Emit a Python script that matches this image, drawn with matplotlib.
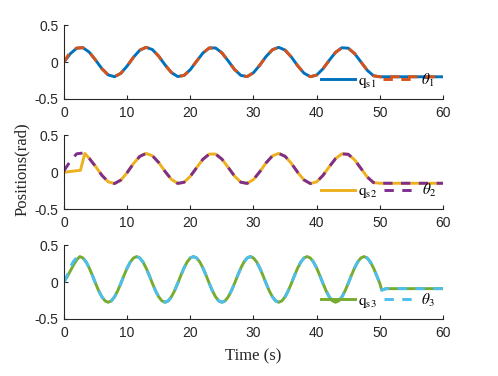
import numpy as np
import matplotlib
matplotlib.use("Agg")
import matplotlib.pyplot as plt

plt.rcParams['font.family'] = ['Liberation Sans', 'DejaVu Sans']
plt.rcParams['mathtext.fontset'] = 'stix'

# ---- data ----
t = list(range(0, 61))

q_s1 = [0.0, 0.113, 0.187, 0.195, 0.134, 0.027, -0.090, -0.175, -0.199, -0.153,
        -0.054, 0.065, 0.161, 0.200, 0.169, 0.079, -0.039, -0.142, -0.197, -0.182,
        -0.103, 0.012, 0.123, 0.191, 0.191, 0.125, 0.015, -0.101, -0.181, -0.197,
        -0.145, -0.042, 0.076, 0.167, 0.200, 0.162, 0.068, -0.051, -0.151, -0.199,
        -0.177, -0.092, 0.024, 0.132, 0.194, 0.188, 0.116, 0.003, -0.111, -0.186,
        -0.200, -0.200, -0.200, -0.200, -0.200, -0.200, -0.200, -0.200, -0.200, -0.200,
        -0.200]
theta1_head = [0.0, 0.14, 0.19]
theta1 = theta1_head + q_s1[3:]

t_q2 = [0, 1, 2, 2.6, 3.3] + list(range(4, 61))
q_s2_head = [0.0, 0.01, 0.02, 0.025, 0.255]
q_s2_body = [0.187, 0.078, -0.042, -0.130, -0.154, -0.107,
             -0.005, 0.117, 0.215, 0.255, 0.223, 0.131, 0.010, -0.096, -0.152, -0.137,
             -0.056, 0.062, 0.176, 0.246, 0.246, 0.178, 0.065, -0.053, -0.136, -0.152,
             -0.099, 0.007, 0.128, 0.221, 0.255, 0.216, 0.120, -0.002, -0.105, -0.154,
             -0.131, -0.044, 0.075, 0.185, 0.249, 0.243, 0.169, 0.053, -0.064, -0.141,
             -0.150, -0.150, -0.150, -0.150, -0.150, -0.150, -0.150, -0.150, -0.150, -0.150,
             -0.150]
q_s2 = q_s2_head + q_s2_body
theta2_head = [0.02, 0.15, 0.25, 0.26]
theta2 = theta2_head + q_s2_body

t3 = list(np.arange(0, 50.5, 0.5)) + [50.3, 51, 60]
q_s3 = [0.0, 0.07, 0.15, 0.23, 0.30, 0.345, 0.326, 0.272, 0.190, 0.089, -0.019, -0.120, -0.202, -0.256, -0.275, -0.256, -0.202, -0.120,
        -0.019, 0.089, 0.190, 0.272, 0.326, 0.345, 0.326, 0.272, 0.190, 0.089, -0.019, -0.120, -0.202, -0.256, -0.275, -0.256, -0.202, -0.120,
        -0.019, 0.089, 0.190, 0.272, 0.326, 0.345, 0.326, 0.272, 0.190, 0.089, -0.019, -0.120, -0.202, -0.256, -0.275, -0.256, -0.202, -0.120,
        -0.019, 0.089, 0.190, 0.272, 0.326, 0.345, 0.326, 0.272, 0.190, 0.089, -0.019, -0.120, -0.202, -0.256, -0.275, -0.256, -0.202, -0.120,
        -0.019, 0.089, 0.190, 0.272, 0.326, 0.345, 0.326, 0.272, 0.190, 0.089, -0.019, -0.120, -0.202, -0.256, -0.275, -0.256, -0.202, -0.120,
        -0.019, 0.089, 0.190, 0.272, 0.326, 0.345, 0.326, 0.272, 0.190, 0.089, -0.019,
        -0.110, -0.090, -0.090]
theta3_head = [0.0, 0.09, 0.20, 0.28, 0.33]
theta3 = theta3_head + q_s3[5:]

x_ticks = [0, 10, 20, 30, 40, 50, 60]
y_ticks = [-0.5, 0, 0.5]
y_ticklabels = ['-0.5', '0', '0.5']

panels = [
    (t, q_s1, t, theta1, '#0072BD', '#D95319', r'$\mathrm{q}_{\mathrm{s1}}$', r'$\theta_{1}$'),
    (t_q2, q_s2, t, theta2, '#EDB120', '#7E2F8E', r'$\mathrm{q}_{\mathrm{s2}}$', r'$\theta_{2}$'),
    (t3, q_s3, t3, theta3, '#77AC30', '#4DBEEE', r'$\mathrm{q}_{\mathrm{s3}}$', r'$\theta_{3}$'),
]

fig = plt.figure(figsize=(4.98, 3.76), dpi=100)
bottoms = [0.737, 0.444, 0.152]

for (tq, q, tt, th, cq, ct, lq, lt), b in zip(panels, bottoms):
    ax = fig.add_axes([0.1285, b, 0.761, 0.196])
    ax.plot(tq, q, color=cq, lw=2.1, label=lq)
    ax.plot(tt, th, color=ct, lw=2.1, dashes=(3.2, 2.9), label=lt)
    ax.set_xlim(0, 60)
    ax.set_ylim(-0.5, 0.5)
    ax.set_xticks(x_ticks)
    ax.set_yticks(y_ticks)
    ax.set_yticklabels(y_ticklabels)
    for s in ['top', 'right']:
        ax.spines[s].set_visible(False)
    for s in ['left', 'bottom']:
        ax.spines[s].set_linewidth(0.8)
        ax.spines[s].set_color('#262626')
    ax.tick_params(direction='in', length=3, width=0.8, colors='#262626', labelsize=10)
    ax.tick_params(axis='x', pad=5)
    ax.tick_params(axis='y', pad=4)
    ax.legend(loc='center left', bbox_to_anchor=(0.678, 0.245), ncol=2,
              frameon=False, fontsize=11, handlelength=2.25,
              handletextpad=0.2, columnspacing=0.45, borderpad=0, borderaxespad=0)

fig.text(0.044, 0.551, 'Positions(rad)', rotation=90, ha='center', va='center',
         fontsize=12, family='Liberation Serif', color='#262626')
fig.text(0.508, 0.053, 'Time (s)', ha='center', va='center',
         fontsize=12, family='Liberation Serif', color='#262626')

fig.savefig('out.png', dpi=100)
